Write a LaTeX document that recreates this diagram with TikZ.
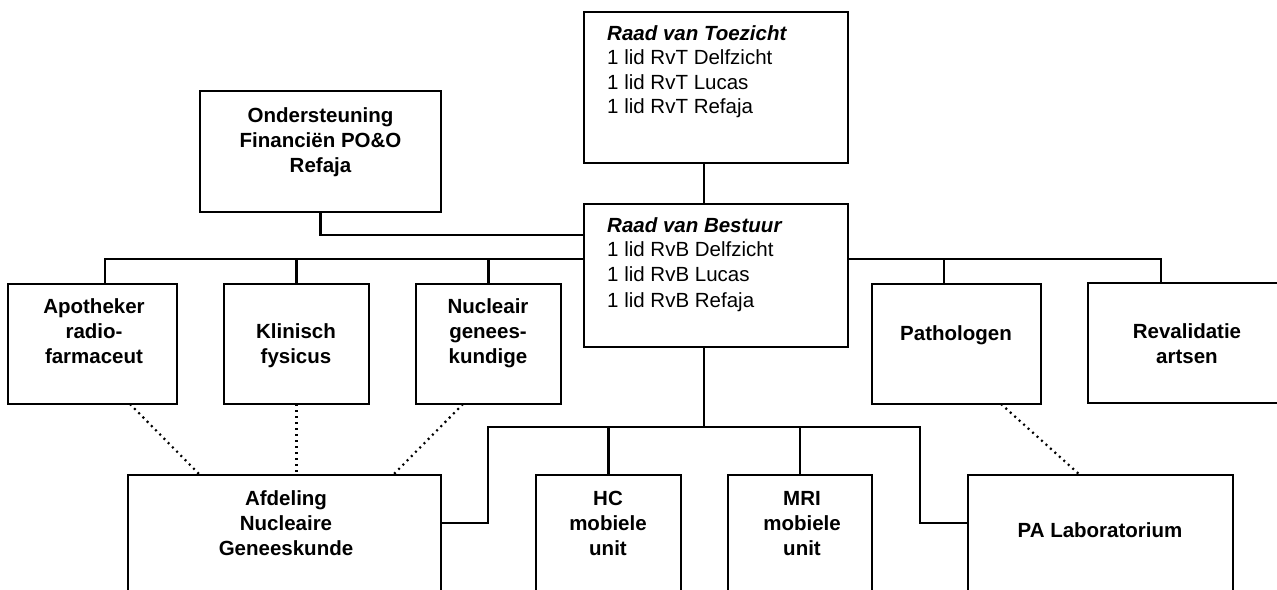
\documentclass[tikz,border=0pt]{standalone}
\usepackage{fontspec}
\setmainfont{Liberation Sans}
\begin{document}
\begin{tikzpicture}[x=1pt,y=-1pt,
  box/.style={draw,line width=2.7pt,anchor=north west,inner sep=0pt,outer sep=0pt},
  conn/.style={line width=2.7pt},
  dotline/.style={line width=2.2pt,dash pattern=on 2pt off 4pt},
  btxt/.style={font=\fontsize{20.5}{25}\selectfont\bfseries,align=center,anchor=base,inner sep=0pt},
  ltxt/.style={font=\fontsize{20.5}{24.5}\selectfont,align=left,anchor=base west,inner sep=0pt}]
\useasboundingbox (0,0) rectangle (1277,589);
\clip (0,0) rectangle (1277,589);
% boxes
\node[box,minimum width=264,minimum height=151] (rvt) at (584,12) {};
\node[box,minimum width=264,minimum height=143] (rvb) at (584,204) {};
\node[box,minimum width=241,minimum height=121] (ond) at (200,91) {};
\node[box,minimum width=169,minimum height=120] (apo) at (8,284) {};
\node[box,minimum width=145,minimum height=120] (kli) at (224,284) {};
\node[box,minimum width=145,minimum height=120] (nuc) at (416,284) {};
\node[box,minimum width=169,minimum height=120] (pat) at (872,284) {};
\node[box,minimum width=220,minimum height=120] (rev) at (1088,283) {};
\node[box,minimum width=313,minimum height=150] (afd) at (128,475) {};
\node[box,minimum width=145,minimum height=150] (hc) at (536,475) {};
\node[box,minimum width=144,minimum height=150] (mri) at (728,475) {};
\node[box,minimum width=265,minimum height=150] (pa) at (968,475) {};
% texts (anchor = baseline of last line)
\node[ltxt] (trvt) at (607,113.5) {\textbf{\textit{Raad van Toezicht}}\\1 lid RvT Delfzicht\\1 lid RvT Lucas\\1 lid RvT Refaja};
\node[ltxt] (trvb) at (607,307) {\textbf{\textit{Raad van Bestuur}}\\1 lid RvB Delfzicht\\1 lid RvB Lucas\\[1.5pt]1 lid RvB Refaja};
\node[btxt] (tond) at (320.5,172) {Ondersteuning\\Financiën PO\&O\\Refaja};
\node[btxt] (tapo) at (94,363) {Apotheker\\radio-\\farmaceut};
\node[btxt] (tkli) at (296,363) {Klinisch\\fysicus};
\node[btxt] (tnuc) at (488,363) {Nucleair\\genees-\\kundige};
\node[btxt] (tpat) at (956,340) {Pathologen};
\node[btxt] (trev) at (1187,363) {Revalidatie\\artsen};
\node[btxt] (tafd) at (286,555) {Afdeling\\Nucleaire\\Geneeskunde};
\node[btxt] (thc) at (608,555) {HC\\mobiele\\unit};
\node[btxt] (tmri) at (802,555) {MRI\\mobiele\\unit};
\node[btxt] (tpa) at (1100,537) {PA Laboratorium};
% helper coordinates
\coordinate (xa) at (704,0);
\coordinate (dApo) at (105,0);
\coordinate (dPat) at (944,0);
\coordinate (dRev) at (1161,0);
\coordinate (dAfd) at (488,0);
\coordinate (dPa) at (920,0);
\coordinate (yA) at (0,235);
\coordinate (yB) at (0,259);
\coordinate (yC) at (0,427);
\coordinate (yD) at (0,523);
% connectors
\draw[conn] (rvt.south -| xa) -- (rvb.north -| xa);
\draw[conn] (ond.south) |- (rvb.west |- yA);
\draw[conn] (apo.north -| dApo) |- (rvb.west |- yB);
\draw[conn] (kli.north) -- (kli.north |- yB);
\draw[conn] (nuc.north) -- (nuc.north |- yB);
\draw[conn] (rvb.east |- yB) -| (rev.north -| dRev);
\draw[conn] (pat.north -| dPat) -- (dPat |- yB);
\draw[conn] (rvb.south -| xa) -- (xa |- yC);
\draw[conn] (afd.east |- yD) -| (dAfd |- yC) -- (dPa |- yC) |- (pa.west |- yD);
\draw[conn] (hc.north) -- (hc.north |- yC);
\draw[conn] (mri.north) -- (mri.north |- yC);
% dotted
\draw[dotline] ([xshift=37.5]apo.south) -- ([xshift=-84.5]afd.north);
\draw[dotline] (kli.south) -- (kli.south |- afd.north);
\draw[dotline] ([xshift=-25.5]nuc.south) -- ([xshift=108.5]afd.north);
\draw[dotline] ([xshift=44.5]pat.south) -- ([xshift=-20.5]pa.north);
\end{tikzpicture}
\end{document}
